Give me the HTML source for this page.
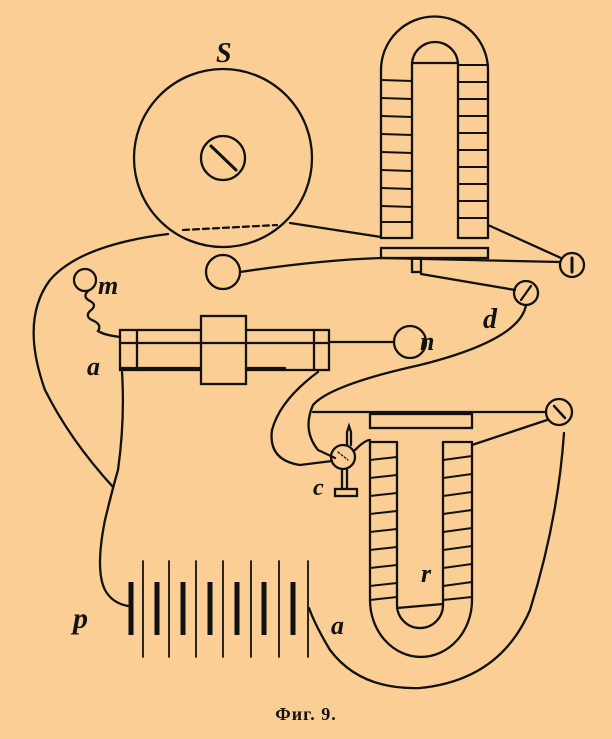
<!DOCTYPE html>
<html><head><style>
html,body{margin:0;padding:0;background:#fbce96;}
svg{display:block;}
text{font-family:"Liberation Serif",serif;font-style:italic;font-weight:bold;fill:#111;}
</style></head><body>
<svg width="612" height="739" viewBox="0 0 612 739" xmlns="http://www.w3.org/2000/svg">
<rect width="612" height="739" fill="#fbce96"/>
<g fill="none" stroke="#111" stroke-width="2.3" stroke-linecap="round">
<circle cx="223" cy="158" r="89"/>
<circle cx="223" cy="158" r="22"/>
<line x1="211" y1="146" x2="236" y2="170" stroke-width="3"/>
<line x1="183" y1="230" x2="277" y2="225" stroke-dasharray="6,4"/>
<path d="M290 223 L381 237"/>
<path d="M381 238 L381 70 A53 53 0 0 1 488 70 L488 238"/>
<path d="M412 238 L412 65 A23 23 0 0 1 458 65 L458 238"/>
<line x1="412" y1="63" x2="458" y2="63"/>
<line x1="381" y1="238" x2="412" y2="238"/>
<line x1="458" y1="238" x2="488" y2="238"/>
<g stroke-width="2">
<line x1="381" y1="80" x2="412" y2="81"/><line x1="381" y1="98" x2="412" y2="99"/>
<line x1="381" y1="116" x2="412" y2="117"/><line x1="381" y1="134" x2="412" y2="135"/>
<line x1="381" y1="152" x2="412" y2="153"/><line x1="381" y1="170" x2="412" y2="171"/>
<line x1="381" y1="188" x2="412" y2="189"/><line x1="381" y1="206" x2="412" y2="207"/>
<line x1="381" y1="222" x2="412" y2="222"/>
<line x1="458" y1="65" x2="488" y2="65"/><line x1="458" y1="82" x2="488" y2="82"/>
<line x1="458" y1="99" x2="488" y2="99"/><line x1="458" y1="116" x2="488" y2="116"/>
<line x1="458" y1="133" x2="488" y2="133"/><line x1="458" y1="150" x2="488" y2="150"/>
<line x1="458" y1="167" x2="488" y2="167"/><line x1="458" y1="184" x2="488" y2="184"/>
<line x1="458" y1="201" x2="488" y2="201"/><line x1="458" y1="218" x2="488" y2="218"/>
</g>
<rect x="381" y="248" width="107" height="10"/>
<path d="M240 272 Q320 260 381 258 L560 262"/>
<path d="M488 225 L561 258"/>
<rect x="412" y="258" width="9" height="14"/>
<path d="M421 274 L515 290"/>
<circle cx="572" cy="265" r="12"/>
<line x1="572" y1="258" x2="572" y2="272" stroke-width="3"/>
<circle cx="526" cy="293" r="12"/>
<line x1="521" y1="300" x2="531" y2="286"/>
<circle cx="223" cy="272" r="17"/>
<circle cx="85" cy="280" r="11"/>
<path d="M88 291 q-6 6 2 10 q8 4 0 10 q-6 6 4 10 q8 4 4 10 q6 4 22 6"/>
<rect x="120" y="330" width="209" height="40"/>
<line x1="137" y1="330" x2="137" y2="370"/>
<line x1="314" y1="330" x2="314" y2="370"/>
<line x1="120" y1="343" x2="329" y2="343"/>
<line x1="120" y1="368" x2="285" y2="368"/>
<rect x="201" y="316" width="45" height="68" fill="#fbce96"/>
<line x1="201" y1="343" x2="246" y2="343"/>
<path d="M329 342 L394 342"/>
<circle cx="410" cy="342" r="16"/>
<path d="M168 234 Q80 245 50 280 Q20 320 45 390 Q70 440 113 487"/>
<path d="M122 372 Q125 420 118 470 Q113 487 105 520 Q95 570 105 590 Q112 603 128 606"/>
<path d="M526 305 Q520 340 420 365 Q330 385 313 405 Q302 430 318 450 L335 458"/>
<path d="M318 372 Q280 400 272 430 Q268 460 300 465 L332 461"/>
<circle cx="343" cy="457" r="12"/>
<line x1="338" y1="452" x2="348" y2="460" stroke-dasharray="2,2" stroke-width="1.2"/>
<path d="M347 445 L347 432 L349 426 L351 432 L351 445"/>
<line x1="342" y1="470" x2="342" y2="489"/><line x1="347" y1="470" x2="347" y2="489"/>
<rect x="335" y="489" width="22" height="7"/>
<path d="M355 450 Q365 440 370 440"/>
<line x1="313" y1="412" x2="546" y2="412"/>
<rect x="370" y="414" width="102" height="14"/>
<path d="M370 442 L370 600 A51 57 0 0 0 472 600 L472 442"/>
<path d="M397 442 L397 605 A23 23 0 0 0 443 605 L443 442"/>
<line x1="370" y1="442" x2="397" y2="442"/>
<line x1="443" y1="442" x2="472" y2="442"/>
<line x1="397" y1="608" x2="443" y2="604"/>
<g stroke-width="2">
<line x1="370" y1="460" x2="397" y2="457"/><line x1="370" y1="478" x2="397" y2="475"/>
<line x1="370" y1="496" x2="397" y2="493"/><line x1="370" y1="514" x2="397" y2="511"/>
<line x1="370" y1="532" x2="397" y2="529"/><line x1="370" y1="550" x2="397" y2="547"/>
<line x1="370" y1="568" x2="397" y2="565"/><line x1="370" y1="586" x2="397" y2="583"/>
<line x1="370" y1="600" x2="397" y2="597"/>
<line x1="443" y1="460" x2="472" y2="456"/><line x1="443" y1="478" x2="472" y2="474"/>
<line x1="443" y1="496" x2="472" y2="492"/><line x1="443" y1="514" x2="472" y2="510"/>
<line x1="443" y1="532" x2="472" y2="528"/><line x1="443" y1="550" x2="472" y2="546"/>
<line x1="443" y1="568" x2="472" y2="564"/><line x1="443" y1="586" x2="472" y2="582"/>
<line x1="443" y1="600" x2="472" y2="597"/>
</g>
<path d="M472 445 L547 420"/>
<circle cx="559" cy="412" r="13"/>
<line x1="554" y1="406" x2="565" y2="418" stroke-width="2.5"/>
<path d="M564 433 Q558 520 530 610 Q500 680 420 688 Q360 690 330 650 Q315 625 309 608"/>
<g stroke-width="5" stroke-linecap="butt">
<line x1="131" y1="582" x2="131" y2="635"/><line x1="157" y1="582" x2="157" y2="635"/>
<line x1="183" y1="582" x2="183" y2="635"/><line x1="210" y1="582" x2="210" y2="635"/>
<line x1="237" y1="582" x2="237" y2="635"/><line x1="264" y1="582" x2="264" y2="635"/>
<line x1="293" y1="582" x2="293" y2="635"/>
</g>
<g stroke-width="1.8">
<line x1="143" y1="561" x2="143" y2="657"/><line x1="169" y1="561" x2="169" y2="657"/>
<line x1="196" y1="561" x2="196" y2="657"/><line x1="223" y1="561" x2="223" y2="657"/>
<line x1="251" y1="561" x2="251" y2="657"/><line x1="279" y1="561" x2="279" y2="657"/>
<line x1="308" y1="561" x2="308" y2="657"/>
</g>
</g>
<text x="216" y="62" font-size="28">S</text>
<text x="98" y="294" font-size="26">m</text>
<text x="87" y="375" font-size="26">a</text>
<text x="420" y="350" font-size="26">n</text>
<text x="483" y="328" font-size="28">d</text>
<text x="313" y="495" font-size="24">c</text>
<text x="421" y="582" font-size="26">r</text>
<text x="73" y="628" font-size="30">p</text>
<text x="331" y="634" font-size="26">a</text>
<text x="306" y="720" font-size="18" text-anchor="middle" style="font-style:normal;letter-spacing:1px">Фиг. 9.</text>
</svg>
</body></html>
